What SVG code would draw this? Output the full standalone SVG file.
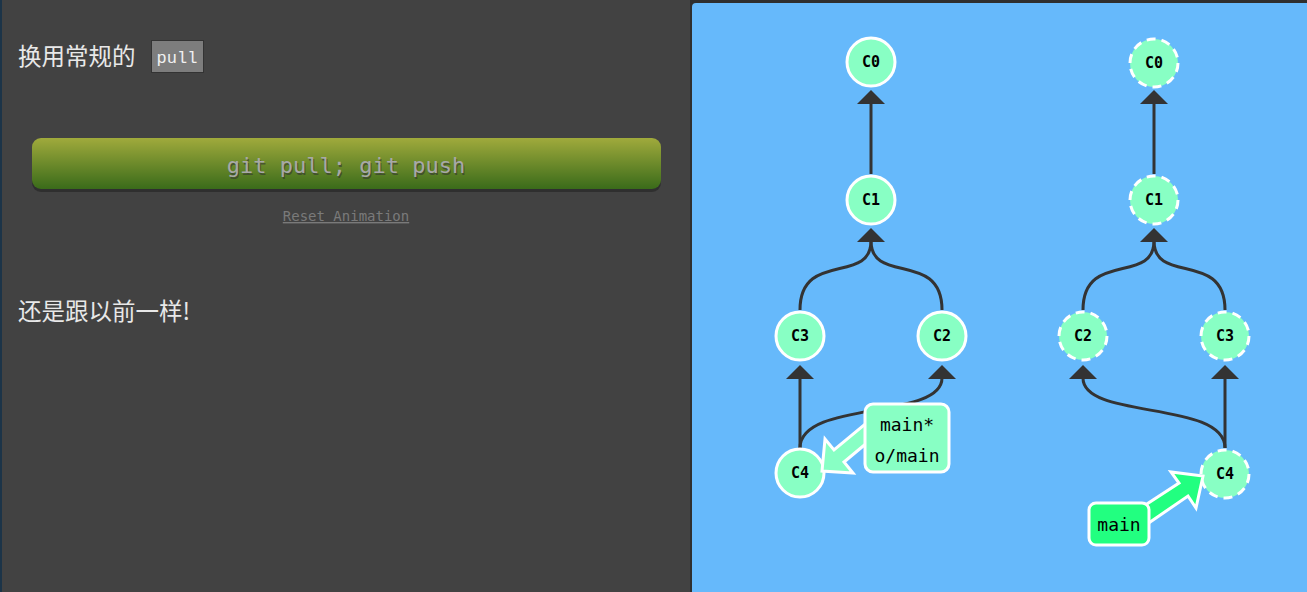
<svg xmlns="http://www.w3.org/2000/svg" width="1307" height="592" viewBox="0 0 1307 592">
<style>
.cjk{font-family:"Noto Sans CJK SC","Noto Sans",sans-serif;font-size:23.5px;fill:#e8e8e8}
.node circle{fill:#88ffc4;stroke:#fff;stroke-width:3}
.node.ghost circle{stroke-dasharray:9 6}
.node text{font-family:"DejaVu Sans Mono","Liberation Mono",monospace;font-weight:bold;font-size:15px;fill:#000;text-anchor:middle;dominant-baseline:central}
.edge{fill:none;stroke:#333;stroke-width:3}
.lbl{font-family:"DejaVu Sans Mono","Liberation Mono",monospace;font-size:18px;fill:#000;text-anchor:middle;dominant-baseline:central}
</style>
<defs>
<linearGradient id="btn" x1="0" y1="0" x2="0" y2="1">
<stop offset="0" stop-color="#a0aa3c"/>
<stop offset="1" stop-color="#3a6b1a"/>
</linearGradient>
</defs>
<rect x="0" y="0" width="1307" height="592" fill="#424242"/>
<rect x="0" y="0" width="2" height="592" fill="#1c3448"/>
<rect x="690" y="0" width="617" height="592" fill="#2f2f2f"/>
<rect x="692" y="3" width="620" height="600" rx="4" fill="#66b9fb"/>

<g id="left-text">
<text class="cjk" x="18" y="65">换用常规的</text>
<rect x="151.5" y="40.5" width="52" height="32" fill="#7d7d7d" stroke="#333"/>
<text x="177" y="63" font-family="'Liberation Mono','DejaVu Sans Mono',monospace" font-size="17" fill="#f0f0f0" text-anchor="middle">pull</text>
<rect x="32" y="141" width="629" height="51" rx="9" fill="#2a2a2a" opacity="0.8"/>
<rect x="32" y="138" width="629" height="51" rx="9" fill="url(#btn)"/>
<text x="347" y="167" font-family="'DejaVu Sans Mono','Liberation Mono',monospace" font-size="22" fill="#333" text-anchor="middle" dominant-baseline="central" opacity="0.6">git pull; git push</text>
<text x="346" y="165" font-family="'DejaVu Sans Mono','Liberation Mono',monospace" font-size="22" fill="#a8a8a8" text-anchor="middle" dominant-baseline="central">git pull; git push</text>
<text x="346" y="221" font-family="'DejaVu Sans Mono','Liberation Mono',monospace" font-size="14" fill="#7a7a7a" text-anchor="middle" text-decoration="underline">Reset Animation</text>
<text class="cjk" x="18" y="320">还是跟以前一样!</text>
</g>

<g id="connectors">
<path class="edge" d="M871 174 L871 103"/>
<polygon points="871,90 857,104 885,104" fill="#333"/>
<path class="edge" d="M800 310 C800 250 871 285 871 241"/>
<path class="edge" d="M942 310 C942 250 871 285 871 241"/>
<polygon points="871,228 857,242 885,242" fill="#333"/>
<path class="edge" d="M800 448 L800 378"/>
<polygon points="800,365 786,379 814,379" fill="#333"/>
<path class="edge" d="M800 448 C800 400 942 420 942 378"/>
<polygon points="942,365 928,379 956,379" fill="#333"/>

<path class="edge" d="M1154 174 L1154 103"/>
<polygon points="1154,90 1140,104 1168,104" fill="#333"/>
<path class="edge" d="M1083 310 C1083 250 1154 285 1154 241"/>
<path class="edge" d="M1225 310 C1225 250 1154 285 1154 241"/>
<polygon points="1154,228 1140,242 1168,242" fill="#333"/>
<path class="edge" d="M1225 448 L1225 378"/>
<polygon points="1225,365 1211,379 1239,379" fill="#333"/>
<path class="edge" d="M1225 448 C1225 400 1083 420 1083 378"/>
<polygon points="1083,365 1069,379 1097,379" fill="#333"/>
</g>

<g id="C0a" class="node"><circle cx="871" cy="62" r="24"/><text x="871" y="62">C0</text></g>
<g id="C1a" class="node"><circle cx="871" cy="200" r="24"/><text x="871" y="200">C1</text></g>
<g id="C3a" class="node"><circle cx="800" cy="336" r="24"/><text x="800" y="336">C3</text></g>
<g id="C2a" class="node"><circle cx="942" cy="336" r="24"/><text x="942" y="336">C2</text></g>
<g id="C4a" class="node"><circle cx="800" cy="473" r="24"/><text x="800" y="473">C4</text></g>

<g id="C0b" class="node ghost"><circle cx="1154" cy="63" r="24"/><text x="1154" y="63">C0</text></g>
<g id="C1b" class="node ghost"><circle cx="1154" cy="200" r="24"/><text x="1154" y="200">C1</text></g>
<g id="C2b" class="node ghost"><circle cx="1083" cy="336" r="24"/><text x="1083" y="336">C2</text></g>
<g id="C3b" class="node ghost"><circle cx="1225" cy="336" r="24"/><text x="1225" y="336">C3</text></g>
<g id="C4b" class="node ghost"><circle cx="1225" cy="474" r="24"/><text x="1225" y="474">C4</text></g>

<g id="label-main-origin">
<polygon points="880,432 844,462 853,473 822,471 825,439 834,450 870,420" fill="#88ffc4" stroke="#fff" stroke-width="3"/>
<rect x="865" y="404" width="84" height="68" rx="8" fill="#88ffc4" stroke="#fff" stroke-width="3"/>
<text class="lbl" x="907" y="424">main*</text>
<text class="lbl" x="907" y="455">o/main</text>
</g>

<g id="label-main">
<polygon points="1140,529 1188,496 1196,508 1203,476 1171,472 1179,483 1130,515" fill="#22ff80" stroke="#fff" stroke-width="3"/>
<rect x="1089" y="503" width="60" height="42" rx="7" fill="#22ff80" stroke="#fff" stroke-width="3"/>
<text class="lbl" x="1119" y="524">main</text>
</g>
</svg>
